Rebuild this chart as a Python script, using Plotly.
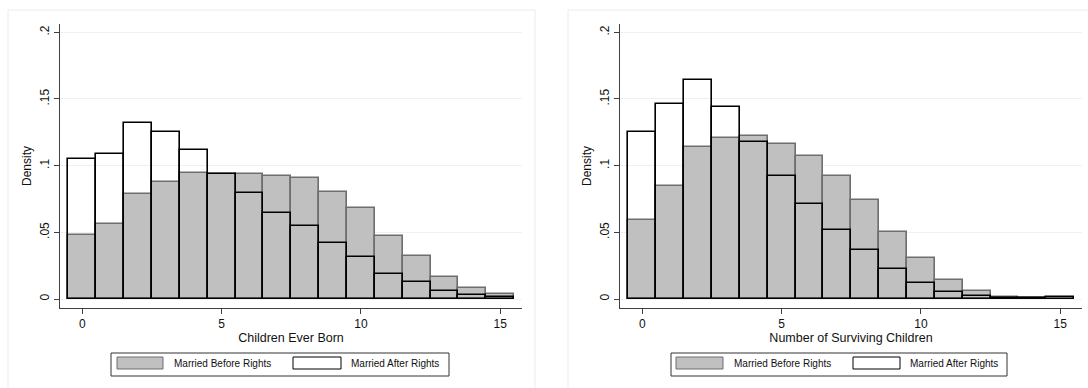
import plotly.graph_objects as go

bins = list(range(16))

ceb_before = [0.048, 0.0565, 0.079, 0.088, 0.0945, 0.094, 0.094, 0.092, 0.091, 0.080,
              0.0685, 0.047, 0.0325, 0.0165, 0.008, 0.0035]
ceb_after = [0.105, 0.109, 0.132, 0.125, 0.112, 0.094, 0.0795, 0.0645, 0.0545, 0.042,
             0.0315, 0.019, 0.0125, 0.006, 0.003, 0.0013]

surv_before = [0.0595, 0.085, 0.114, 0.1205, 0.122, 0.116, 0.107, 0.092, 0.0745, 0.050,
               0.0305, 0.0145, 0.006, 0.0015, 0.0006, 0.0004]
surv_after = [0.125, 0.1465, 0.164, 0.144, 0.118, 0.092, 0.0715, 0.052, 0.0365, 0.0225,
              0.012, 0.005, 0.002, 0.0008, 0.0010, 0.0012]

x_titles = ["Children Ever Born", "Number of Surviving Children"]
y_title = "Density"
legend_labels = ["Married Before Rights", "Married After Rights"]
ytick_vals = [0, 0.05, 0.1, 0.15, 0.2]
ytick_text = ["0", ".05", ".1", ".15", ".2"]
xtick_vals = [0, 5, 10, 15]

W, H = 1088, 388
FONT = "Liberation Sans, Arial, sans-serif"
GRAY = "#c0c0c0"
GRAY_LINE = "#6e6e6e"
FRAME = "#e6eef0"
AXIS = "#404040"

fig = go.Figure()

def px_x(p):
    return p / W

def px_y(p):
    return 1 - p / H

panels = [
    dict(xa="x", ya="y", before=ceb_before, after=ceb_after),
    dict(xa="x2", ya="y2", before=surv_before, after=surv_after),
]

for p in panels:
    fig.add_trace(go.Bar(x=bins, y=p["before"], width=1, xaxis=p["xa"], yaxis=p["ya"],
                         marker=dict(color=GRAY, line=dict(color=GRAY_LINE, width=1.6)),
                         showlegend=False, hoverinfo="x+y"))
    fig.add_trace(go.Bar(x=bins, y=p["after"], width=1, xaxis=p["xa"], yaxis=p["ya"],
                         marker=dict(color="rgba(0,0,0,0)", line=dict(color="#000000", width=1.6)),
                         showlegend=False, hoverinfo="x+y"))

ydom = [px_y(308), px_y(24)]
common_x = dict(range=[-0.8, 15.78], tickvals=xtick_vals, showline=True, linecolor=AXIS,
                linewidth=1, ticks="outside", ticklen=5, tickcolor=AXIS, showgrid=False,
                zeroline=False, tickfont=dict(family=FONT, size=12, color="#111"),
                title_font=dict(family=FONT, size=12.5, color="#111"), title_standoff=2,
                automargin=False)
common_y = dict(range=[-0.0067, 0.2062], tickvals=ytick_vals, ticktext=ytick_text,
                tickangle=-90, showline=True, linecolor=AXIS, linewidth=1, ticks="outside",
                ticklen=5, tickcolor=AXIS, showgrid=True, gridcolor="#eaf2f3", gridwidth=1,
                zeroline=False, tickfont=dict(family=FONT, size=12, color="#111"),
                title_font=dict(family=FONT, size=12, color="#111"), title_standoff=4,
                automargin=False)

fig.update_layout(
    width=W, height=H, margin=dict(l=0, r=0, t=0, b=0),
    paper_bgcolor="white", plot_bgcolor="white", barmode="overlay", bargap=0,
    xaxis=dict(domain=[px_x(60), px_x(522)], anchor="y", title_text=x_titles[0], **common_x),
    yaxis=dict(domain=ydom, anchor="x", title_text=y_title, **common_y),
    xaxis2=dict(domain=[px_x(620), px_x(1082)], anchor="y2", title_text=x_titles[1], **common_x),
    yaxis2=dict(domain=ydom, anchor="x2", title_text=y_title, **common_y),
    font=dict(family=FONT, size=12, color="#111"),
)

shapes = []
annotations = []
for x0, x1 in [(8, 535), (568, 1095)]:
    shapes.append(dict(type="rect", xref="paper", yref="paper",
                       x0=px_x(x0), x1=px_x(x1), y0=px_y(395), y1=px_y(10),
                       line=dict(color=FRAME, width=1), fillcolor="rgba(0,0,0,0)", layer="below"))

legends = [
    dict(box=(111, 449), sw1=(117, 163), t1=172, sw2=(293, 341), t2=349),
    dict(box=(671, 1007), sw1=(676, 723), t1=732, sw2=(853, 900), t2=908),
]
for lg in legends:
    shapes.append(dict(type="rect", xref="paper", yref="paper",
                       x0=px_x(lg["box"][0]), x1=px_x(lg["box"][1]), y0=px_y(376), y1=px_y(353),
                       line=dict(color="#333", width=1), fillcolor="white"))
    shapes.append(dict(type="rect", xref="paper", yref="paper",
                       x0=px_x(lg["sw1"][0]), x1=px_x(lg["sw1"][1]), y0=px_y(369), y1=px_y(357),
                       line=dict(color=GRAY_LINE, width=1), fillcolor=GRAY))
    shapes.append(dict(type="rect", xref="paper", yref="paper",
                       x0=px_x(lg["sw2"][0]), x1=px_x(lg["sw2"][1]), y0=px_y(369), y1=px_y(357),
                       line=dict(color="#000", width=1), fillcolor="white"))
    annotations.append(dict(xref="paper", yref="paper", x=px_x(lg["t1"]), y=px_y(363),
                            text=legend_labels[0], showarrow=False, xanchor="left", yanchor="middle",
                            font=dict(family=FONT, size=10, color="#111")))
    annotations.append(dict(xref="paper", yref="paper", x=px_x(lg["t2"]), y=px_y(363),
                            text=legend_labels[1], showarrow=False, xanchor="left", yanchor="middle",
                            font=dict(family=FONT, size=10, color="#111")))

fig.update_layout(shapes=shapes, annotations=annotations)
fig.write_html("out.html", config={"displayModeBar": False},
               post_script="document.body.style.margin='0px';document.body.style.padding='0px';"
                           "document.body.style.overflow='hidden';")
